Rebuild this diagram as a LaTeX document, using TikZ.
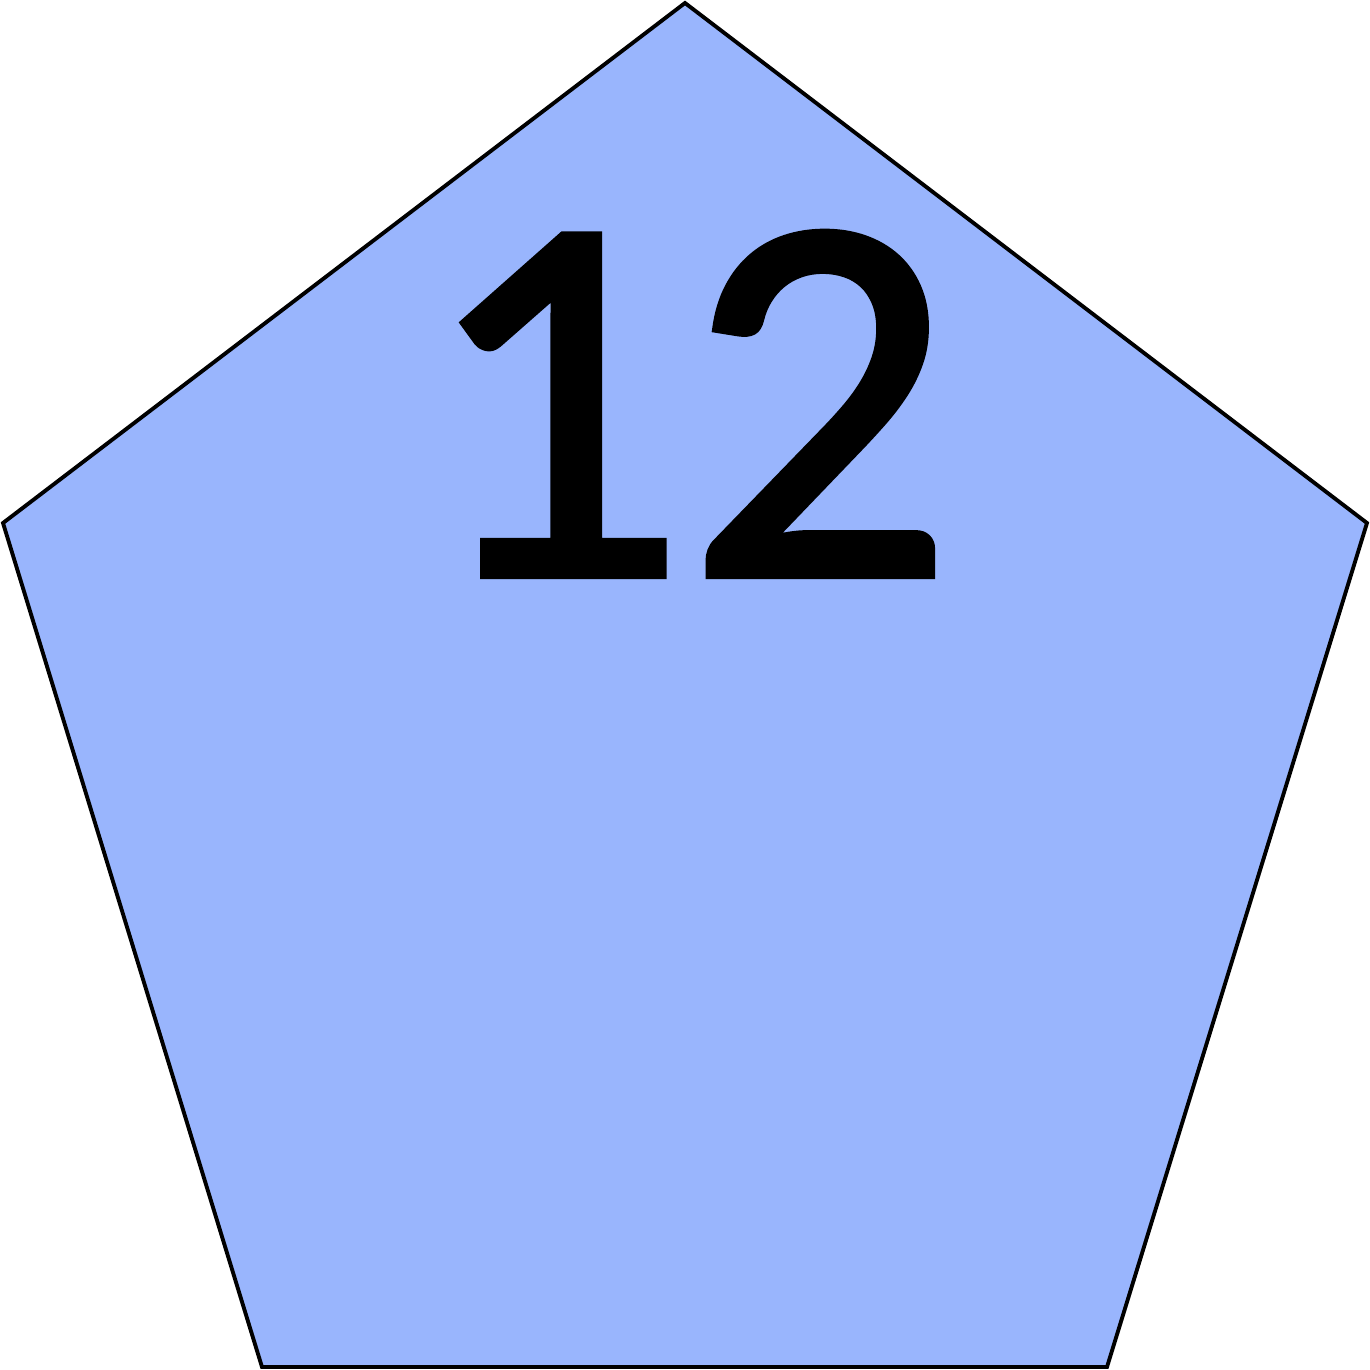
\documentclass[tikz,border=0pt]{standalone}
\usepackage{fontspec}
\newfontfamily\labelfont[FakeBold=1.6]{Carlito}
\definecolor{faceblue}{RGB}{153,181,253}

\begin{document}
\begin{tikzpicture}[every node/.style={font=\labelfont}]
  \useasboundingbox (0,0) rectangle (13.7,13.7);
  \coordinate (T)  at (6.85,13.67);
  \coordinate (R)  at (13.67,8.47);
  \coordinate (BR) at (11.07,0.03);
  \coordinate (BL) at (2.62,0.03);
  \coordinate (L)  at (0.03,8.47);
  \draw[fill=faceblue, line width=1.1pt, line join=miter] (T) -- (R) -- (BR) -- (BL) -- (L) -- cycle;
  \node[anchor=base, inner sep=0pt, font=\labelfont\fontsize{150pt}{154pt}\selectfont] (num) at (6.86,7.95) {12};
\end{tikzpicture}
\end{document}
